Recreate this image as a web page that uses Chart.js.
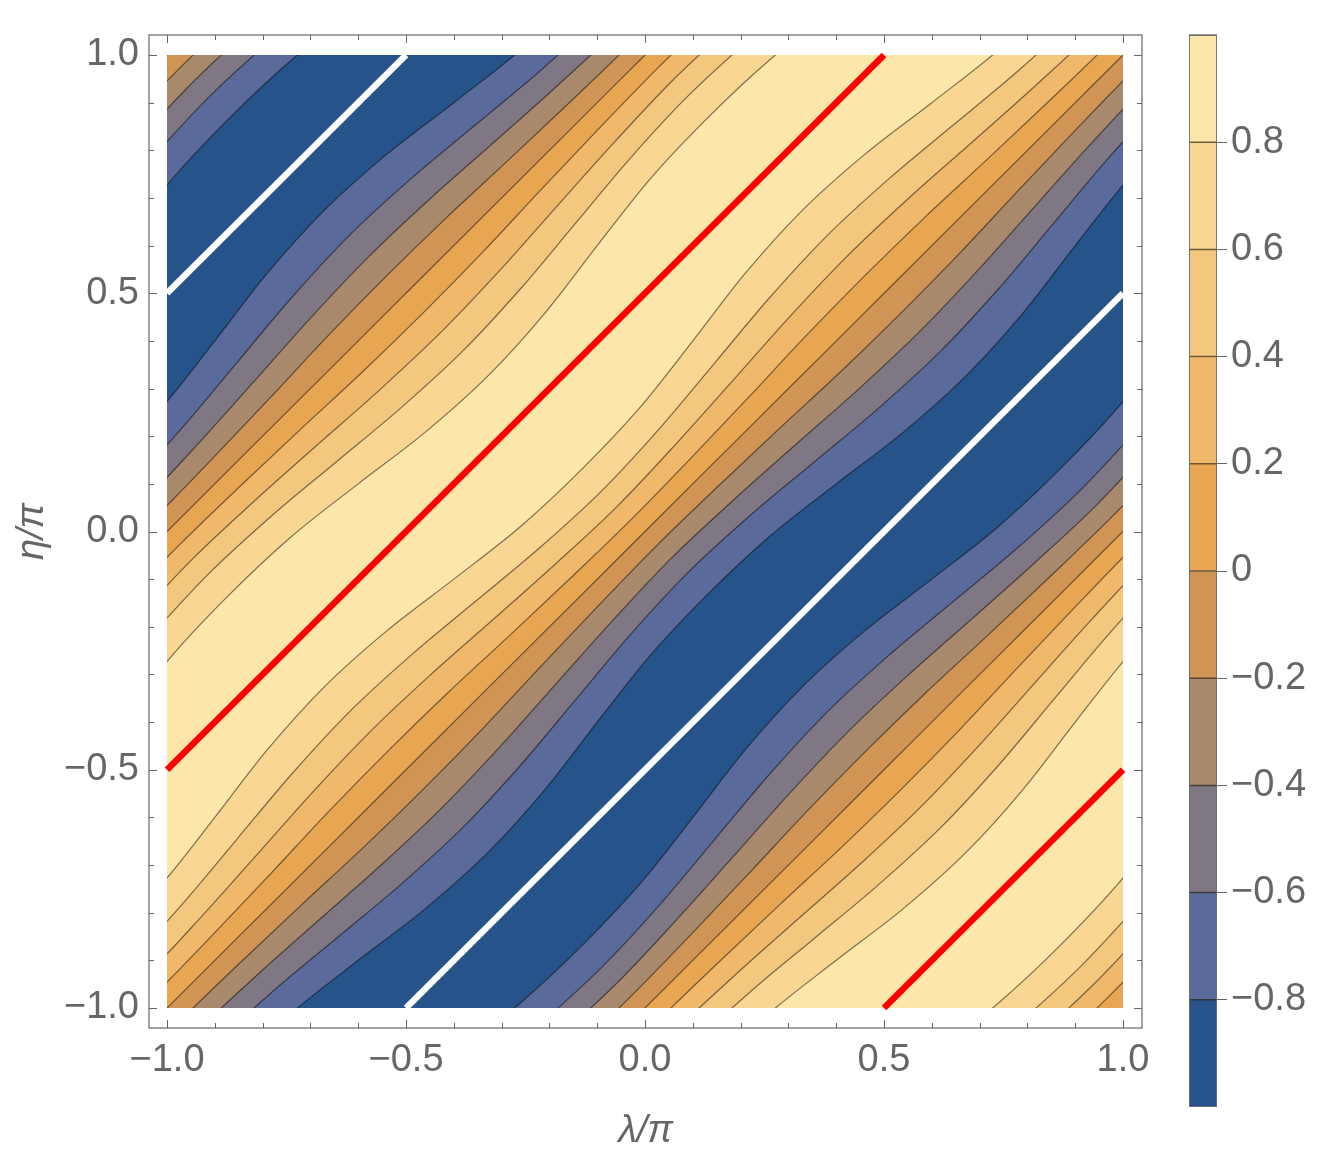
<!DOCTYPE html>
<html>
<head>
<meta charset="utf-8">
<script src="https://cdn.jsdelivr.net/npm/chart.js@4.4.1/dist/chart.umd.min.js"></script>
<style>
  html, body { margin: 0; padding: 0; background: #ffffff; }
  #wrap { position: relative; width: 1324px; height: 1176px; overflow: hidden; }
  .box { position: absolute; top: 0; }
</style>
</head>
<body>
<div id="wrap">
  <div class="box" style="left:0;width:1324px;height:1176px;"><canvas id="main" width="1324" height="1176"></canvas></div>
  <div class="box" style="left:1150px;width:174px;height:1176px;"><canvas id="bar" width="174" height="1176"></canvas></div>
</div>
<script>
// ---------------- data ----------------
// contour levels (also the colour-bar ticks)
const contourLevels = [-0.8, -0.6, -0.4, -0.2, 0, 0.2, 0.4, 0.6, 0.8];
// band colours from -1 up to +1 (10 bands of 0.2)
const bandColors = ['#26548a', '#5a6b9b', '#7f7784', '#a8896c', '#d09455',
                    '#e8a653', '#efb86b', '#f4c77e', '#f9d691', '#fde6aa'];
// frame tick labels (units of pi)
const axisTicks = [-1, -0.5, 0, 0.5, 1];
// sample positions along (lambda+eta)/pi
const diagSamples = [0, 0.25, 0.5, 0.75, 1];
// offset (eta-lambda)/pi of the falling contours of level +0.2 ... +0.8, read at diagSamples
const fallOffset02 = [0.923, 0.926, 0.935, 0.942, 0.946];
const fallOffset04 = [0.845, 0.852, 0.867, 0.881, 0.889];
const fallOffset06 = [0.760, 0.770, 0.792, 0.814, 0.824];
const fallOffset08 = [0.655, 0.668, 0.700, 0.729, 0.737];
// straight marker lines: maximum (red) and minimum (white), endpoints in (lambda/pi, eta/pi)
const maxLines = [[[-1, -0.5], [0.5, 1]], [[0.5, -1], [1, -0.5]]];
const minLines = [[[-0.5, -1], [1, 0.5]], [[-1, 0.5], [-0.5, 1]]];

// ---------------- building the contour datasets ----------------
const offsetTables = [null, fallOffset02, fallOffset04, fallOffset06, fallOffset08];
const step = diagSamples[1] - diagSamples[0];
const span = diagSamples[diagSamples.length - 1];

// the plot is 2-periodic in lambda and eta, and mirror-symmetric across eta = -lambda
function fallU(li, v) {
  const c = contourLevels[li];
  let t = ((v % (2 * span)) + 2 * span) % (2 * span);
  if (t > span) t = 2 * span - t;
  const i = Math.round(t / step);
  const m = Math.round(Math.abs(c) * 5);
  if (m === 0) return 1;
  const val = offsetTables[m][i];
  return c > 0 ? val : 2 - val;
}
function riseU(li, v) { return 1 - fallU(li, v - 1); }

const vList = [];
for (let k = -18; k <= 18; k++) vList.push(k * step);

const curves = [];
for (const k of [-1, 0]) {
  contourLevels.forEach((c, li) => curves.push({ u: v => fallU(li, v) + 2 * k, band: li }));
}
for (const k of [-1, 0, 1]) {
  contourLevels.forEach((c, li) => curves.push({ u: v => riseU(li, v) + 2 * k, band: li + 1 }));
}
curves.sort((a, b) => a.u(0.5) - b.u(0.5));

const N = curves.length;
const datasets = curves.map((cv, r) => ({
  data: vList.map(v => { const u = cv.u(v); return { x: (v - u) / 2, y: (v + u) / 2 }; }),
  borderColor: 'rgba(0,0,0,0.5)',
  borderWidth: 1.2,
  backgroundColor: bandColors[cv.band],
  fill: 'end',
  pointRadius: 0,
  cubicInterpolationMode: 'monotone',
  order: N - r
}));
maxLines.forEach(seg => datasets.push({
  data: seg.map(p => ({ x: p[0], y: p[1] })), borderColor: '#ff0000', borderWidth: 6.5,
  fill: false, pointRadius: 0, order: 0, refLine: true
}));
minLines.forEach(seg => datasets.push({
  data: seg.map(p => ({ x: p[0], y: p[1] })), borderColor: '#ffffff', borderWidth: 6.5,
  fill: false, pointRadius: 0, order: 0, refLine: true
}));

// ---------------- helpers ----------------
Chart.defaults.font.family = "'Liberation Sans', Arial, sans-serif";
Chart.defaults.color = '#666666';
const minus = '\u2212';
const fmtAxis = v => (v < -1e-9 ? minus : '') + Math.abs(v).toFixed(1);
const fmtBar = v => Math.abs(v) < 1e-9 ? '0' : (v < 0 ? minus : '') + Math.abs(v).toFixed(1);

const dataClip = {
  id: 'dataClip',
  beforeDatasetsDraw(chart) {
    const { ctx } = chart; const xs = chart.scales.x, ys = chart.scales.y;
    const lo = axisTicks[0], hi = axisTicks[axisTicks.length - 1];
    const l = xs.getPixelForValue(lo), r = xs.getPixelForValue(hi);
    const t = ys.getPixelForValue(hi), b = ys.getPixelForValue(lo);
    ctx.save();
    ctx.beginPath(); ctx.rect(l, t, r - l, b - t); ctx.clip();
    ctx.fillStyle = bandColors[0]; ctx.fillRect(l, t, r - l, b - t);
    chart.$clipped = true;
  },
  beforeDatasetDraw(chart, args) {
    if (chart.$clipped && chart.data.datasets[args.index].refLine) {
      chart.ctx.restore(); chart.$clipped = false;
    }
  },
  afterDatasetsDraw(chart) {
    if (chart.$clipped) { chart.ctx.restore(); chart.$clipped = false; }
  }
};

const frameTicks = {
  id: 'frameTicks',
  afterDraw(chart) {
    const { ctx, chartArea: a } = chart; const xs = chart.scales.x, ys = chart.scales.y;
    ctx.save();
    ctx.strokeStyle = '#666666'; ctx.lineWidth = 1.2;
    ctx.strokeRect(a.left, a.top, a.right - a.left, a.bottom - a.top);
    ctx.lineWidth = 1;
    ctx.beginPath();
    for (let i = -10; i <= 10; i++) {
      const v = i / 10; const len = (i % 5 === 0) ? 8 : 5;
      const x = Math.round(xs.getPixelForValue(v)) + 0.5;
      const y = Math.round(ys.getPixelForValue(v)) + 0.5;
      ctx.moveTo(x, a.bottom); ctx.lineTo(x, a.bottom - len);
      ctx.moveTo(x, a.top); ctx.lineTo(x, a.top + len);
      ctx.moveTo(a.left, y); ctx.lineTo(a.left + len, y);
      ctx.moveTo(a.right, y); ctx.lineTo(a.right - len, y);
    }
    ctx.stroke();
    ctx.restore();
  }
};

new Chart(document.getElementById('main'), {
  type: 'line',
  data: { datasets },
  options: {
    responsive: false, animation: false, events: [],
    layout: { padding: { left: 0, top: 35, right: 182, bottom: 0 } },
    plugins: { legend: { display: false }, tooltip: { enabled: false } },
    scales: {
      x: {
        type: 'linear', min: -1.0377, max: 1.0397,
        afterBuildTicks: s => { s.ticks = axisTicks.map(v => ({ value: v })); },
        afterFit: s => { s.height = 148; },
        grid: { display: false, drawTicks: false }, border: { display: false },
        ticks: { callback: fmtAxis, color: '#666666', font: { size: 38 }, padding: 10, maxRotation: 0, autoSkip: false },
        title: { display: true, text: 'λ/π', color: '#666666', font: { size: 38, style: 'italic' }, padding: { top: 0, bottom: 22 } }
      },
      y: {
        type: 'linear', min: -1.042, max: 1.042,
        afterBuildTicks: s => { s.ticks = axisTicks.map(v => ({ value: v })); },
        afterFit: s => { s.width = 149; },
        grid: { display: false, drawTicks: false }, border: { display: false },
        ticks: { callback: fmtAxis, color: '#666666', font: { size: 38 }, padding: 10, autoSkip: false },
        title: { display: true, text: 'η/π', color: '#666666', font: { size: 38, style: 'italic' }, padding: { top: 10, bottom: 0 } }
      }
    }
  },
  plugins: [dataClip, frameTicks]
});

// ---------------- colour bar ----------------
const bandEdges = [-1].concat(contourLevels, [1]);
const barFrame = {
  id: 'barFrame',
  afterDatasetsDraw(chart) {
    const { ctx, chartArea: a } = chart; const ys = chart.scales.y;
    ctx.save();
    ctx.strokeStyle = 'rgba(40,30,20,0.65)'; ctx.lineWidth = 1.5;
    ctx.beginPath();
    contourLevels.concat([1]).forEach(v => {
      const y = ys.getPixelForValue(v);
      ctx.moveTo(a.left, y); ctx.lineTo(a.right, y);
    });
    ctx.stroke();
    ctx.strokeStyle = 'rgba(110,110,110,0.9)'; ctx.lineWidth = 1;
    ctx.strokeRect(a.left + 0.5, a.top + 0.5, a.right - a.left - 1, a.bottom - a.top - 1);
    ctx.restore();
  }
};
new Chart(document.getElementById('bar'), {
  type: 'bar',
  data: {
    labels: ['bar'],
    datasets: bandColors.map((col, i) => ({
      data: [[bandEdges[i], bandEdges[i + 1]]], backgroundColor: col, borderWidth: 0,
      barPercentage: 1, categoryPercentage: 1, grouped: false
    }))
  },
  options: {
    responsive: false, animation: false, events: [],
    layout: { padding: { left: 39, top: 35, right: 0, bottom: 69 } },
    plugins: { legend: { display: false }, tooltip: { enabled: false } },
    scales: {
      x: { display: false },
      y: {
        position: 'right', min: -1, max: 1,
        afterBuildTicks: s => { s.ticks = contourLevels.map(v => ({ value: v })); },
        afterFit: s => { s.width = 107; },
        grid: { drawOnChartArea: false, drawTicks: true, tickLength: 10, color: '#666666', lineWidth: 1 },
        border: { display: false },
        ticks: { callback: fmtBar, color: '#666666', font: { size: 38 }, padding: 4, autoSkip: false }
      }
    }
  },
  plugins: [barFrame]
});
</script>
</body>
</html>
